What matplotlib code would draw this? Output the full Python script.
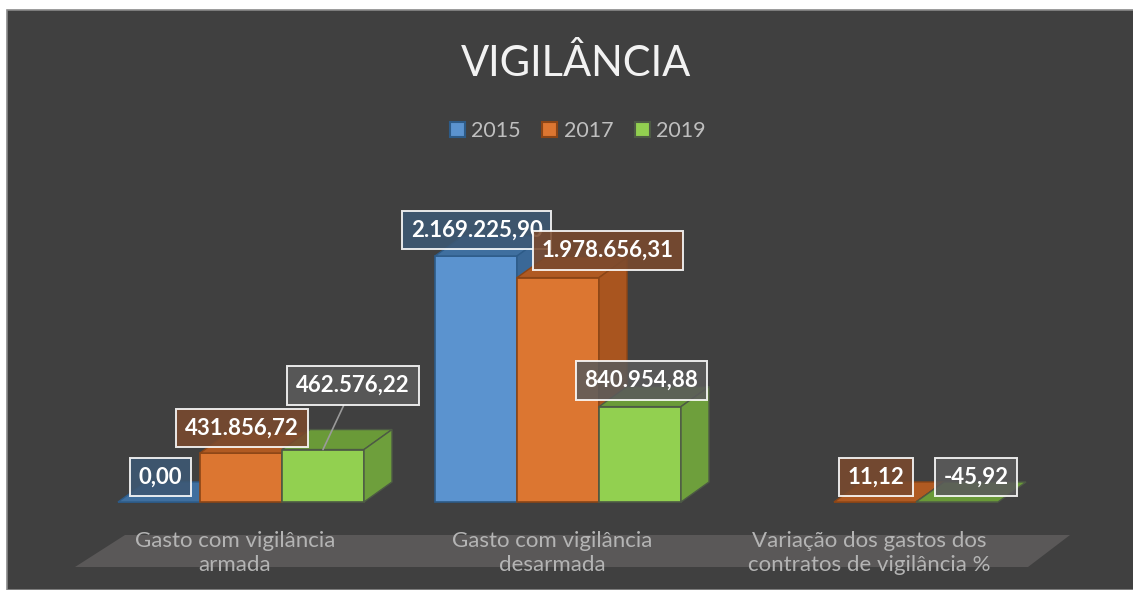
import matplotlib.pyplot as plt
import numpy as np
from matplotlib.patches import Polygon, Rectangle

# ---------------- data ----------------
categories = ['Gasto com vigilância\narmada',
              'Gasto com vigilância\ndesarmada',
              'Variação dos gastos dos\ncontratos de vigilância %']
years = ['2015', '2017', '2019']
v2015 = [0.00, 2169225.90, np.nan]
v2017 = [431856.72, 1978656.31, 11.12]
v2019 = [462576.22, 840954.88, -45.92]
labels2015 = ['0,00', '2.169.225,90', '']
labels2017 = ['431.856,72', '1.978.656,31', '11,12']
labels2019 = ['462.576,22', '840.954,88', '-45,92']

# ---------------- style ----------------
W, H = 1133, 590
BG = '#404040'
front = ['#5b93cf', '#dc7631', '#92d050']
top = ['#3f6f9f', '#b05a22', '#6a9a38']
side = ['#3a6897', '#a9551f', '#6e9f3c']
edge = ['#2d5b88', '#8b4516', '#4d5a45']
boxfc = ['#3d5874', '#7a4a2e', '#5b5b5b']
# label offsets in pixels (dx, dy) per series / group
offs = [[(1.5, 25), (0.5, 26), (0, 25)],
        [(1, 25), (50, 27), (1, 25)],
        [(30, 64), (1.5, 26), (19, 25)]]
FONT = 'Lato'

fig = plt.figure(figsize=(W / 100, H / 100), dpi=100, facecolor='white')
fig.patches.append(Rectangle((7 / W, 0), 1, 1 - 10 / H, transform=fig.transFigure,
                             facecolor=BG, edgecolor='#8a8a8a', lw=1.2, zorder=-5))

# overlay axes in pixel coords (y down)
ov = fig.add_axes([0, 0, 1, 1])
ov.set_xlim(0, W)
ov.set_ylim(H, 0)
ov.axis('off')
ov.patch.set_alpha(0)
# floor
ov.add_patch(Polygon([(125, 535), (1070, 535), (1028, 567), (75, 567)],
                     closed=True, facecolor='#5a5858', edgecolor='none', zorder=1))

# bar axes
base_px, px_per_unit = 502, 113.4e-6
ymax = 2.5e6
ax = fig.add_axes([0, (H - base_px) / H, 1, ymax * px_per_unit / H])
ax.set_xlim(-241 / 317, (W - 241) / 317)
ax.set_ylim(0, ymax)
ax.axis('off')
ax.patch.set_alpha(0)

x = np.arange(len(categories))
bw = 82 / 317
dx_d = 28 / 317                 # depth in data units
dy_d = 20 / px_per_unit

series = [v2015, v2017, v2019]
labels = [labels2015, labels2017, labels2019]
for g in range(len(categories)):
    for s in range(3):
        v = series[s][g]
        if np.isnan(v):
            continue
        xc = x[g] + (s - 1) * bw
        x0, x1 = xc - bw / 2, xc + bw / 2
        h = max(v, 0)
        z = 3 + g * 3 + s
        ax.bar(xc, h, bw, color=front[s], edgecolor=edge[s], lw=1.2, zorder=z, clip_on=False)
        ax.add_patch(Polygon([(x0, h), (x1, h), (x1 + dx_d, h + dy_d), (x0 + dx_d, h + dy_d)],
                             facecolor=top[s], edgecolor=edge[s], lw=1.0, zorder=z, clip_on=False))
        if h > 0:
            ax.add_patch(Polygon([(x1, 0), (x1 + dx_d, dy_d), (x1 + dx_d, h + dy_d), (x1, h)],
                                 facecolor=side[s], edgecolor=edge[s], lw=1.0, zorder=z, clip_on=False))

# data labels
for g in range(len(categories)):
    for s in range(3):
        v = series[s][g]
        if np.isnan(v):
            continue
        xc = x[g] + (s - 1) * bw
        ox, oy = offs[s][g]
        arrow = None
        if oy > 40:
            arrow = dict(arrowstyle='-', color='#9a9a9a', lw=1.2, shrinkA=0, shrinkB=0)
        ax.annotate(labels[s][g], xy=(xc, max(v, 0)), xytext=(ox, oy),
                    textcoords='offset pixels', ha='center', va='center',
                    fontsize=16, fontweight='bold', color='white', family=FONT,
                    bbox=dict(boxstyle='square,pad=0.4', facecolor=boxfc[s], alpha=0.88,
                              edgecolor=(1, 1, 1, 0.5), lw=1.4),
                    arrowprops=arrow, zorder=30, annotation_clip=False)

# category labels
for g, c in enumerate(categories):
    px = ax.transData.transform((x[g], 0))[0]
    ov.text(px - 6, 553, c, ha='center', va='center', fontsize=16, color='#b4b4b4',
            family=FONT, linespacing=1.2, zorder=2)

# title and legend
fig.text(0.508, 1 - 63 / H, 'VIGILÂNCIA', ha='center', va='center', fontsize=30,
         color='#f2f2f2', family=FONT)
handles = [Rectangle((0, 0), 1, 1, facecolor=front[i], edgecolor=edge[i], lw=1.5) for i in range(3)]
leg = fig.legend(handles, years, loc='center', bbox_to_anchor=(0.51, 1 - 131 / H), ncol=3,
                 frameon=False, handlelength=0.7, handleheight=0.7,
                 handletextpad=0.3, columnspacing=1.0, prop={'family': FONT, 'size': 15.5})
for t in leg.get_texts():
    t.set_color('#bfbfbf')

fig.savefig('out.png', dpi=100, facecolor='white')
